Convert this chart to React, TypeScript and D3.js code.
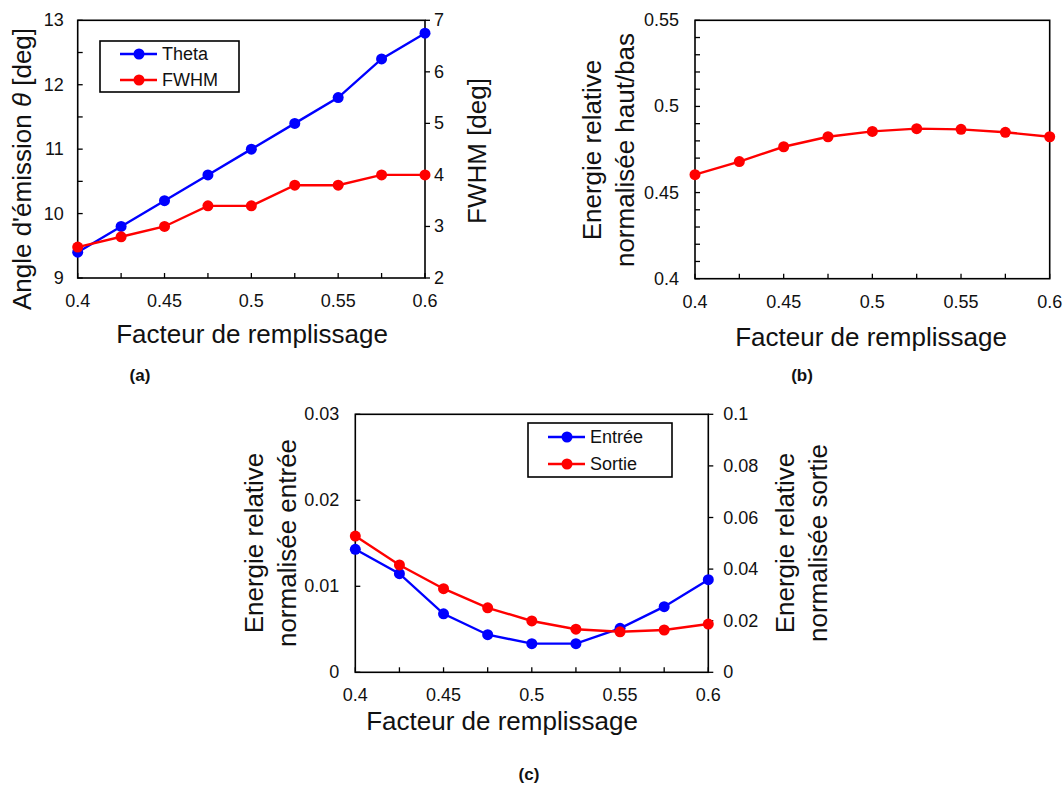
import React from "react";
import * as d3 from "d3";

const fill = [0.4, 0.425, 0.45, 0.475, 0.5, 0.525, 0.55, 0.575, 0.6];
const theta = [9.4, 9.8, 10.2, 10.6, 11.0, 11.4, 11.8, 12.4, 12.8];
const fwhm = [2.6, 2.8, 3.0, 3.4, 3.4, 3.8, 3.8, 4.0, 4.0];
const hautBas = [0.4604, 0.468, 0.4766, 0.4824, 0.4855, 0.4871, 0.4867, 0.485, 0.4824];
const entree = [0.0143, 0.01147, 0.0068, 0.00437, 0.00333, 0.00333, 0.00512, 0.00763, 0.01077];
const sortie = [0.0528, 0.0416, 0.0324, 0.025, 0.0199, 0.0167, 0.0157, 0.0164, 0.0187];
const xTicks = [0.4, 0.45, 0.5, 0.55, 0.6];
const xMinor = [0.425, 0.475, 0.525, 0.575];

const FONT = "'Liberation Sans', Arial, Helvetica, sans-serif";
const BLUE = "#0000FF";
const RED = "#FF0000";
const TITLE = 26;

type Axis = {
  domain: [number, number];
  ticks: number[];
  minor?: number[];
  fmt: (v: number) => string;
};

type Series = { values: number[]; color: string; axis: "left" | "right" };

function Panel(props: {
  x0: number; x1: number; y0: number; y1: number;
  left: Axis; right?: Axis; series: Series[];
  leftGap: number; rightGap: number; xLabelDy: number;
}) {
  const { x0, x1, y0, y1, left, right, series, leftGap, rightGap, xLabelDy } = props;
  const x = d3.scaleLinear().domain([0.4, 0.6]).range([x0, x1]);
  const yl = d3.scaleLinear().domain(left.domain).range([y1, y0]);
  const yr = right ? d3.scaleLinear().domain(right.domain).range([y1, y0]) : null;
  const tl = 5;
  return (
    <g>
      <rect x={x0} y={y0} width={x1 - x0} height={y1 - y0} fill="none" stroke="#000" strokeWidth={1.6} />
      {[...xTicks, ...xMinor].map((t, i) => (
        <line key={"xt" + i} x1={x(t)} x2={x(t)} y1={y1} y2={y1 - tl} stroke="#000" strokeWidth={1.3} />
      ))}
      {xTicks.map((t, i) => (
        <text key={"xl" + i} x={x(t)} y={y1 + xLabelDy} textAnchor="middle" fontSize={18} fontFamily={FONT} fill="#111">
          {d3.format("")(t)}
        </text>
      ))}
      {[...left.ticks, ...(left.minor || [])].map((t, i) => (
        <line key={"lt" + i} x1={x0} x2={x0 + tl} y1={yl(t)} y2={yl(t)} stroke="#000" strokeWidth={1.3} />
      ))}
      {left.ticks.map((t, i) => (
        <text key={"ll" + i} x={x0 - leftGap} y={yl(t)} textAnchor="end" dominantBaseline="central" fontSize={18} fontFamily={FONT} fill="#111">
          {left.fmt(t)}
        </text>
      ))}
      {right && yr && right.ticks.map((t, i) => (
        <g key={"rt" + i}>
          <line x1={x1} x2={x1 + tl} y1={yr(t)} y2={yr(t)} stroke="#000" strokeWidth={1.3} />
          <text x={x1 + rightGap} y={yr(t)} textAnchor="start" dominantBaseline="central" fontSize={18} fontFamily={FONT} fill="#111">
            {right.fmt(t)}
          </text>
        </g>
      ))}
      {series.map((s, si) => {
        const ys = s.axis === "left" ? yl : (yr as d3.ScaleLinear<number, number>);
        const line = d3.line<number>().x((_, i) => x(fill[i])).y((v) => ys(v));
        return (
          <g key={"s" + si}>
            <path d={line(s.values) || ""} fill="none" stroke={s.color} strokeWidth={2.4} />
            {s.values.map((v, i) => (
              <circle key={i} cx={x(fill[i])} cy={ys(v)} r={5.5} fill={s.color} />
            ))}
          </g>
        );
      })}
    </g>
  );
}

function Legend(props: { x: number; y: number; w: number; h: number; items: { label: string; color: string }[]; rowY: number[] }) {
  const { x, y, w, h, items, rowY } = props;
  return (
    <g>
      <rect x={x} y={y} width={w} height={h} fill="#fff" stroke="#000" strokeWidth={1.6} />
      {items.map((it, i) => (
        <g key={i}>
          <line x1={x + 20} x2={x + 57} y1={rowY[i]} y2={rowY[i]} stroke={it.color} strokeWidth={2.4} />
          <circle cx={x + 39} cy={rowY[i]} r={5.5} fill={it.color} />
          <text x={x + 62} y={rowY[i]} dominantBaseline="central" fontSize={18} fontFamily={FONT} fill="#111">{it.label}</text>
        </g>
      ))}
    </g>
  );
}

function VText(props: { x: number; y: number; children: React.ReactNode }) {
  return (
    <text transform={`translate(${props.x},${props.y}) rotate(-90)`} textAnchor="middle" dominantBaseline="central" fontSize={TITLE} fontFamily={FONT} fill="#111">
      {props.children}
    </text>
  );
}

export default function App() {
  const intFmt = d3.format("d");
  const gFmt = (v: number) => d3.format("")(+v.toFixed(4));
  return (
    <svg width={1064} height={787} style={{ position: "absolute", left: 0, top: 0, background: "#fff" }}>
      <rect width={1064} height={787} fill="#fff" />
      {/* Panel (a) */}
      <Panel
        x0={77.7} x1={425} y0={20.3} y1={278}
        left={{ domain: [9, 13], ticks: [9, 10, 11, 12, 13], minor: [9.5, 10.5, 11.5, 12.5], fmt: intFmt }}
        right={{ domain: [2, 7], ticks: [2, 3, 4, 5, 6, 7], fmt: intFmt }}
        series={[{ values: theta, color: BLUE, axis: "left" }, { values: fwhm, color: RED, axis: "right" }]}
        leftGap={14} rightGap={9} xLabelDy={29}
      />
      <Legend x={100} y={41} w={139} h={51} items={[{ label: "Theta", color: BLUE }, { label: "FWHM", color: RED }]} rowY={[54, 80]} />
      <VText x={22} y={169}>Angle d'émission <tspan fontStyle="italic">θ</tspan> [deg]</VText>
      <VText x={477} y={151}>FWHM [deg]</VText>
      <text x={252} y={343} textAnchor="middle" fontSize={TITLE} fontFamily={FONT} fill="#111">Facteur de remplissage</text>
      <text x={140} y={381} textAnchor="middle" fontSize={17} fontWeight="bold" fontFamily={FONT} fill="#111">(a)</text>

      {/* Panel (b) */}
      <Panel
        x0={695} x1={1049.7} y0={20.3} y1={278.7}
        left={{ domain: [0.4, 0.55], ticks: [0.4, 0.45, 0.5, 0.55], minor: [0.41, 0.42, 0.43, 0.44, 0.46, 0.47, 0.48, 0.49, 0.51, 0.52, 0.53, 0.54], fmt: gFmt }}
        series={[{ values: hautBas, color: RED, axis: "left" }]}
        leftGap={16} rightGap={9} xLabelDy={29}
      />
      <VText x={592} y={150}>Energie relative</VText>
      <VText x={625} y={150}>normalisée haut/bas</VText>
      <text x={871} y={346} textAnchor="middle" fontSize={TITLE} fontFamily={FONT} fill="#111">Facteur de remplissage</text>
      <text x={802} y={381} textAnchor="middle" fontSize={17} fontWeight="bold" fontFamily={FONT} fill="#111">(b)</text>

      {/* Panel (c) */}
      <Panel
        x0={355.3} x1={708.3} y0={414.3} y1={672.3}
        left={{ domain: [0, 0.03], ticks: [0, 0.01, 0.02, 0.03], fmt: gFmt }}
        right={{ domain: [0, 0.1], ticks: [0, 0.02, 0.04, 0.06, 0.08, 0.1], fmt: gFmt }}
        series={[{ values: entree, color: BLUE, axis: "left" }, { values: sortie, color: RED, axis: "right" }]}
        leftGap={16} rightGap={15} xLabelDy={29}
      />
      <Legend x={528} y={423} w={144} h={54} items={[{ label: "Entrée", color: BLUE }, { label: "Sortie", color: RED }]} rowY={[437, 464]} />
      <VText x={254} y={543}>Energie relative</VText>
      <VText x={287} y={543}>normalisée entrée</VText>
      <VText x={785} y={543}>Energie relative</VText>
      <VText x={818} y={543}>normalisée sortie</VText>
      <text x={502} y={730} textAnchor="middle" fontSize={TITLE} fontFamily={FONT} fill="#111">Facteur de remplissage</text>
      <text x={529} y={780} textAnchor="middle" fontSize={17} fontWeight="bold" fontFamily={FONT} fill="#111">(c)</text>
    </svg>
  );
}
